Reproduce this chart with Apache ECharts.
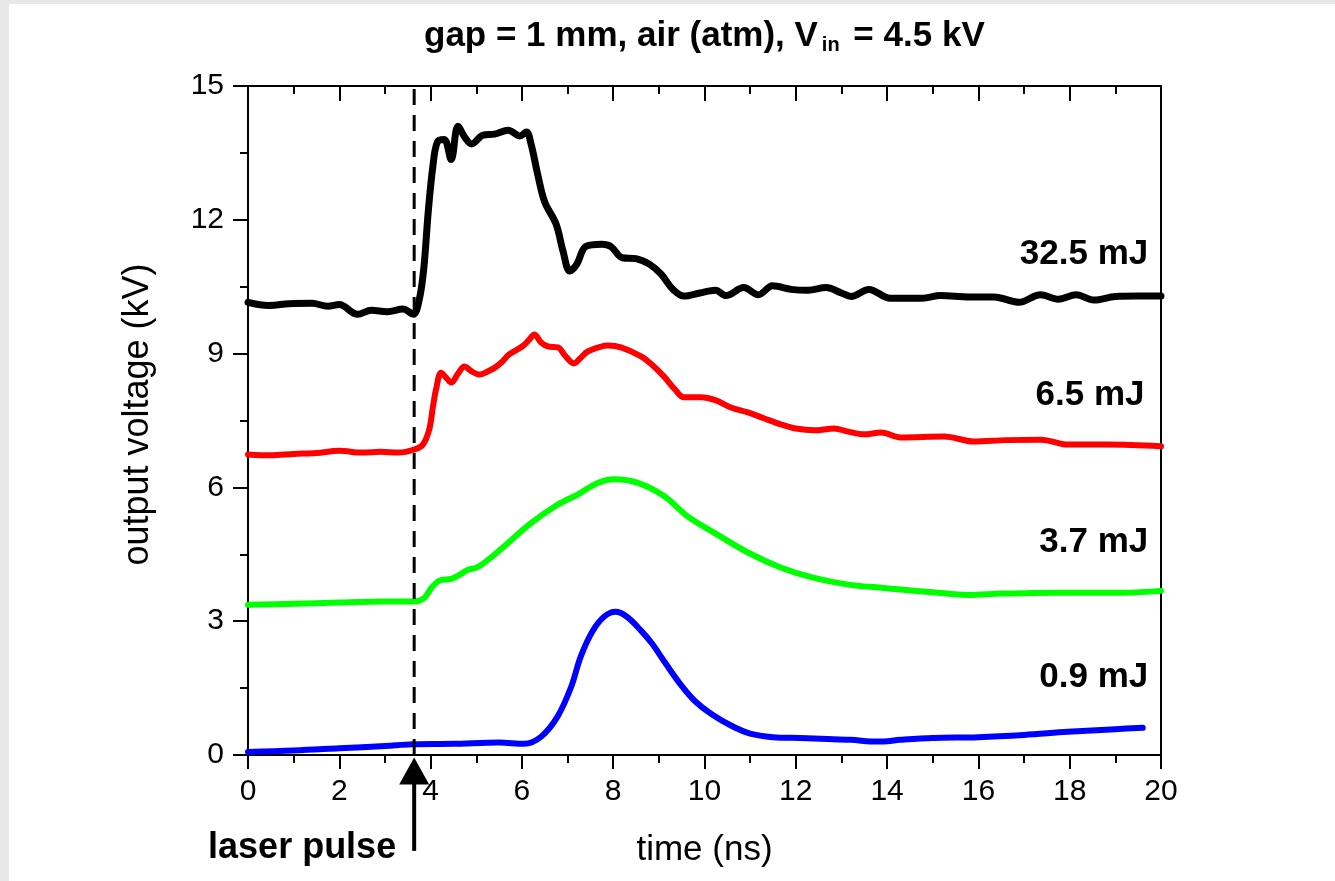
<!DOCTYPE html>
<html>
<head>
<meta charset="utf-8">
<script src="https://cdn.jsdelivr.net/npm/echarts@6/dist/echarts.min.js"></script>
<style>
  html, body { margin: 0; padding: 0; background: #e8e8e8; width: 1335px; height: 881px; overflow: hidden; }
  #chart { position: absolute; left: 9px; top: 4px; width: 1326px; height: 877px; background: #ffffff; }
</style>
</head>
<body>
<div id="chart"></div>
<script>
// Output voltage traces (time in ns, voltage in kV) for four laser energies
const trace32mJ = [
  [0, 10.15], [0.45, 10.08], [0.9, 10.12], [1.4, 10.13], [1.75, 10.06], [2.0, 10.1],
  [2.4, 9.88], [2.7, 9.97], [3.05, 9.94], [3.4, 10.0], [3.62, 9.88], [3.75, 10.2],
  [3.85, 10.9], [3.95, 12.2], [4.05, 13.2], [4.15, 13.75], [4.3, 13.8], [4.45, 13.35],
  [4.6, 14.1], [4.75, 13.85], [4.9, 13.7], [5.15, 13.9], [5.4, 13.92], [5.7, 14.01],
  [5.95, 13.88], [6.1, 13.97], [6.2, 13.7], [6.35, 13.0], [6.5, 12.4], [6.75, 11.9],
  [6.9, 11.3], [7.05, 10.85], [7.2, 11.0], [7.4, 11.4], [7.75, 11.45], [7.95, 11.4],
  [8.2, 11.15], [8.5, 11.13], [8.8, 11.0], [9.05, 10.78], [9.3, 10.45], [9.55, 10.29],
  [9.9, 10.36], [10.24, 10.42], [10.47, 10.3], [10.86, 10.48], [11.18, 10.32], [11.49, 10.52],
  [11.9, 10.44], [12.27, 10.42], [12.66, 10.48], [13.0, 10.36], [13.21, 10.28], [13.6, 10.44],
  [14.07, 10.24], [14.77, 10.24], [15.17, 10.3], [15.8, 10.27], [16.34, 10.27], [16.89, 10.15],
  [17.36, 10.32], [17.75, 10.22], [18.14, 10.32], [18.53, 10.2], [19.0, 10.28], [19.5, 10.29],
  [20, 10.29]
];
const trace6mJ = [
  [0, 6.74], [0.5, 6.72], [1.0, 6.75], [1.5, 6.77], [2.0, 6.82], [2.5, 6.78], [2.9, 6.8],
  [3.3, 6.78], [3.64, 6.85], [3.83, 6.96], [3.97, 7.3], [4.05, 7.8], [4.12, 8.2], [4.23, 8.57],
  [4.35, 8.45], [4.45, 8.35], [4.6, 8.55], [4.74, 8.71], [4.9, 8.6], [5.07, 8.53], [5.25, 8.6],
  [5.4, 8.68], [5.55, 8.8], [5.72, 8.98], [6.02, 9.17], [6.15, 9.3], [6.27, 9.43], [6.42, 9.25],
  [6.57, 9.16], [6.79, 9.14], [6.95, 8.95], [7.14, 8.78], [7.3, 8.92], [7.45, 9.05], [7.89, 9.18],
  [8.17, 9.14], [8.61, 8.94], [8.85, 8.75], [9.11, 8.49], [9.35, 8.2], [9.55, 8.02], [9.92, 8.02],
  [10.25, 7.95], [10.58, 7.79], [10.95, 7.68], [11.3, 7.55], [11.68, 7.41], [12.0, 7.32],
  [12.4, 7.28], [12.84, 7.32], [13.15, 7.25], [13.49, 7.19], [13.87, 7.23], [14.3, 7.12],
  [15.25, 7.14], [15.9, 7.03], [16.6, 7.06], [17.37, 7.07], [17.96, 6.96], [18.84, 6.96], [20, 6.92]
];
const trace3mJ = [
  [0, 3.37], [1.0, 3.39], [2.0, 3.42], [3.0, 3.44], [3.64, 3.44], [3.86, 3.52], [4.02, 3.75],
  [4.19, 3.91], [4.45, 3.95], [4.65, 4.05], [4.81, 4.15], [5.03, 4.21], [5.35, 4.45], [5.69, 4.75],
  [6.2, 5.2], [6.78, 5.61], [7.22, 5.84], [7.66, 6.1], [8.02, 6.18], [8.54, 6.1], [9.12, 5.8],
  [9.63, 5.35], [10.2, 4.99], [10.95, 4.54], [11.68, 4.2], [12.4, 3.97], [13.15, 3.82],
  [13.87, 3.75], [14.3, 3.71], [15.0, 3.65], [15.77, 3.59], [16.5, 3.62], [17.2, 3.63],
  [18.3, 3.64], [19.2, 3.64], [20, 3.68]
];
const trace09mJ = [
  [0, 0.07], [1.0, 0.1], [2.0, 0.15], [3.0, 0.2], [3.6, 0.24], [4.5, 0.25], [5.5, 0.28],
  [6.05, 0.25], [6.42, 0.41], [6.78, 0.86], [7.08, 1.53], [7.29, 2.21], [7.55, 2.78], [7.8, 3.1],
  [8.05, 3.21], [8.3, 3.1], [8.6, 2.8], [8.85, 2.5], [9.15, 2.05], [9.5, 1.55], [9.8, 1.2],
  [10.15, 0.92], [10.6, 0.65], [11.0, 0.48], [11.5, 0.4], [12.1, 0.38], [12.7, 0.36], [13.2, 0.34],
  [13.8, 0.3], [14.3, 0.34], [15.0, 0.38], [16.0, 0.4], [17.0, 0.45], [17.96, 0.52], [19.0, 0.58],
  [19.6, 0.61]
];

// Laser trigger time (ns)
const laserTime = 3.64;

// Energy labels: [time, voltage, text]
const energyLabels = [
  [19.72, 11.22, '32.5 mJ'],
  [19.64, 8.07, '6.5 mJ'],
  [19.72, 4.76, '3.7 mJ'],
  [19.72, 1.73, '0.9 mJ']
];

const xTicks = { min: 0, max: 20, interval: 2 };
const yTicks = { min: 0, max: 15, interval: 3 };

const FONT = '"Liberation Sans", Arial, sans-serif';

const chart = echarts.init(document.getElementById('chart'), null, { renderer: 'canvas' });

function traceSeries(name, data, color, width) {
  return {
    name: name,
    type: 'line',
    data: data,
    smooth: 0.35,
    symbol: 'none',
    lineStyle: { color: color, width: width, cap: 'round', join: 'round' },
    z: 3
  };
}

const axisLineStyle = { color: '#000', width: 2 };

chart.setOption({
  animation: false,
  backgroundColor: '#ffffff',
  title: {
    text: '{a|gap = 1 mm, air (atm), V}{b|in}{a| = 4.5 kV}',
    left: 410,
    top: 8,
    textStyle: {
      rich: {
        a: { fontFamily: FONT, fontWeight: 'bold', fontSize: 35, color: '#000', lineHeight: 38 },
        b: { fontFamily: FONT, fontWeight: 'bold', fontSize: 20, color: '#000', lineHeight: 20,
             padding: [30, 4, 0, 4], verticalAlign: 'bottom' }
      }
    }
  },
  grid: { left: 239, right: 174, top: 82, bottom: 126 },
  xAxis: [
    {
      type: 'value', position: 'bottom',
      min: xTicks.min, max: xTicks.max, interval: xTicks.interval,
      name: 'time (ns)', nameLocation: 'middle', nameGap: 78,
      nameTextStyle: { fontFamily: FONT, fontSize: 35, color: '#000' },
      axisLine: { show: true, onZero: false, lineStyle: axisLineStyle },
      axisTick: { show: true, inside: false, length: 14, lineStyle: axisLineStyle },
      minorTick: { show: true, splitNumber: 2, length: 8, lineStyle: axisLineStyle },
      splitLine: { show: false },
      minorSplitLine: { show: false },
      axisLabel: { fontFamily: FONT, fontSize: 30, color: '#000', margin: 22 }
    },
    {
      type: 'value', position: 'top',
      min: xTicks.min, max: xTicks.max, interval: xTicks.interval,
      axisLine: { show: true, onZero: false, lineStyle: axisLineStyle },
      axisTick: { show: true, inside: true, length: 15, lineStyle: axisLineStyle },
      minorTick: { show: true, splitNumber: 2, length: 8, lineStyle: axisLineStyle },
      splitLine: { show: false },
      axisLabel: { show: false }
    }
  ],
  yAxis: [
    {
      type: 'value', position: 'left',
      min: yTicks.min, max: yTicks.max, interval: yTicks.interval,
      name: 'output voltage (kV)', nameLocation: 'middle', nameGap: 92, nameRotate: 90,
      nameTextStyle: { fontFamily: FONT, fontSize: 36, color: '#000', padding: [0, 0, 0, 12] },
      axisLine: { show: true, onZero: false, lineStyle: axisLineStyle },
      axisTick: { show: true, inside: false, length: 15, lineStyle: axisLineStyle },
      minorTick: { show: true, splitNumber: 2, length: 8, lineStyle: axisLineStyle },
      splitLine: { show: false },
      minorSplitLine: { show: false },
      axisLabel: { fontFamily: FONT, fontSize: 30, color: '#000', margin: 24 }
    },
    {
      type: 'value', position: 'right',
      min: yTicks.min, max: yTicks.max, interval: yTicks.interval,
      axisLine: { show: true, onZero: false, lineStyle: axisLineStyle },
      axisTick: { show: false },
      splitLine: { show: false },
      axisLabel: { show: false }
    }
  ],
  series: [
    traceSeries('0.9 mJ', trace09mJ, '#0000ff', 6),
    traceSeries('3.7 mJ', trace3mJ, '#00ff00', 6),
    traceSeries('6.5 mJ', trace6mJ, '#ff0000', 6),
    traceSeries('32.5 mJ', trace32mJ, '#000000', 7),
    {
      // dashed marker at the laser trigger
      name: 'trigger',
      type: 'line',
      data: [[laserTime, yTicks.min], [laserTime, yTicks.max]],
      symbol: 'none',
      lineStyle: { color: '#000', width: 3, type: [16, 10] },
      z: 4
    },
    {
      // arrow below the time axis
      name: 'arrow',
      type: 'line',
      clip: false,
      data: [
        { value: [laserTime, -2.15], symbol: 'none' },
        { value: [laserTime, -0.36], symbol: 'triangle', symbolSize: [30, 27] }
      ],
      lineStyle: { color: '#000', width: 4 },
      itemStyle: { color: '#000' },
      z: 4
    },
    {
      name: 'pulseText',
      type: 'scatter',
      clip: false,
      data: [[laserTime, -2.08]],
      symbolSize: 0,
      itemStyle: { color: '#000' },
      label: {
        show: true, position: 'left', distance: 18,
        formatter: 'laser pulse',
        fontFamily: FONT, fontWeight: 'bold', fontSize: 36, color: '#000', opacity: 1
      },
      z: 5
    },
    {
      name: 'energyText',
      type: 'scatter',
      clip: false,
      data: energyLabels,
      symbolSize: 0,
      itemStyle: { color: '#000' },
      label: {
        show: true, position: 'left', distance: 0,
        formatter: function (p) { return p.value[2]; },
        fontFamily: FONT, fontWeight: 'bold', fontSize: 35, color: '#000', opacity: 1
      },
      z: 5
    }
  ]
});
</script>
</body>
</html>
